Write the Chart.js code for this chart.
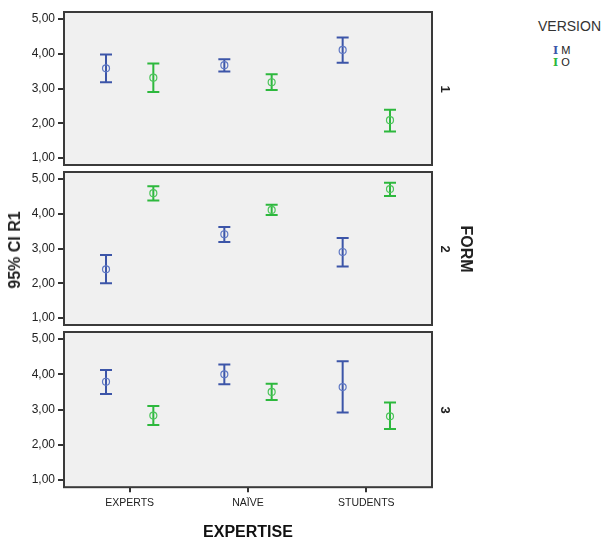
<!DOCTYPE html>
<html>
<head>
<meta charset="utf-8">
<script src="https://cdn.jsdelivr.net/npm/chart.js@4/dist/chart.umd.min.js"></script>
<style>
  body { margin: 0; background: #fff; width: 604px; height: 543px; position: relative; overflow: hidden;
         font-family: 'Liberation Sans', Arial, sans-serif; color: #222; }
  canvas { position: absolute; left: 0; }
  .lbl { position: absolute; white-space: nowrap; transform-origin: center; }
  .bold { font-weight: bold; }
  .leg { position: absolute; font-size: 11px; color: #222; line-height: 12px; }
  .leg span { font-family: 'DejaVu Serif', serif; font-weight: bold; font-size: 11px; margin-right: 3px; }
</style>
</head>
<body>
<canvas id="p0" width="440" height="172" style="top:0px"></canvas>
<canvas id="p1" width="440" height="172" style="top:160px"></canvas>
<canvas id="p2" width="440" height="223" style="top:320px"></canvas>

<div class="lbl bold" style="left:15px; top:250px; font-size:16px; transform:translate(-50%,-50%) rotate(-90deg)">95% CI R1</div>
<div class="lbl bold" style="left:466px; top:249px; font-size:16px; transform:translate(-50%,-50%) rotate(90deg)">FORM</div>
<div id="formLabels"></div>
<div class="lbl" style="left:538px; top:18px; font-size:14px; color:#333">VERSION</div>
<div class="leg" style="left:553px; top:44px"><span style="color:#3c55a8">I</span>M</div>
<div class="leg" style="left:553px; top:56px"><span style="color:#2db83d">I</span>O</div>

<script>
const categories = ['EXPERTS', 'NAÏVE', 'STUDENTS'];
const forms = ['1', '2', '3'];
const yTicks = [1, 2, 3, 4, 5];

// one row per FORM panel, one value per EXPERTISE category
const mMean = [[3.58, 3.67, 4.11], [2.40, 3.41, 2.90], [3.79, 4.00, 3.64]];
const mLow  = [[3.18, 3.49, 3.74], [2.00, 3.19, 2.48], [3.44, 3.72, 2.92]];
const mHigh = [[3.98, 3.84, 4.47], [2.81, 3.62, 3.30], [4.12, 4.28, 4.37]];
const oMean = [[3.31, 3.18, 2.09], [4.59, 4.11, 4.71], [2.83, 3.50, 2.81]];
const oLow  = [[2.90, 2.96, 1.76], [4.38, 3.96, 4.51], [2.56, 3.27, 2.45]];
const oHigh = [[3.72, 3.41, 2.39], [4.79, 4.26, 4.89], [3.10, 3.73, 3.20]];

const panelTops = [12, 172, 332];
const panelHeights = [153, 153, 155];

Chart.defaults.font.family = "'Liberation Sans', Arial, sans-serif";
Chart.defaults.color = '#222';

// panel background + frame
const panelBg = {
  id: 'panelBg',
  beforeDraw(chart) {
    const {ctx, chartArea: a} = chart;
    ctx.save();
    ctx.fillStyle = '#f0f0f0';
    ctx.fillRect(a.left, a.top, a.right - a.left, a.bottom - a.top);
    ctx.restore();
  },
  afterDraw(chart) {
    const {ctx, chartArea: a} = chart;
    ctx.save();
    ctx.strokeStyle = '#3a3a3a';
    ctx.lineWidth = 2;
    ctx.strokeRect(a.left, a.top, a.right - a.left, a.bottom - a.top);
    ctx.restore();
  }
};

// whiskers with caps, drawn under the mean circles
const whiskers = {
  id: 'whiskers',
  beforeDatasetsDraw(chart) {
    const {ctx} = chart;
    const xs = chart.scales.x, ys = chart.scales.y;
    ctx.save();
    chart.data.datasets.forEach(ds => {
      ctx.strokeStyle = ds.whiskerColor;
      ctx.lineWidth = 2;
      ds.data.forEach(p => {
        const x = xs.getPixelForValue(p.x);
        const y1 = ys.getPixelForValue(p.low);
        const y2 = ys.getPixelForValue(p.high);
        ctx.beginPath();
        ctx.moveTo(x, y1); ctx.lineTo(x, y2);
        ctx.moveTo(x - 6, y1); ctx.lineTo(x + 6, y1);
        ctx.moveTo(x - 6, y2); ctx.lineTo(x + 6, y2);
        ctx.stroke();
      });
    });
    ctx.restore();
  }
};

function series(mean, low, high, shift) {
  return categories.map((c, i) => ({x: i + 1 + shift, y: mean[i], low: low[i], high: high[i]}));
}

forms.forEach((f, k) => {
  const isLast = k === forms.length - 1;
  new Chart(document.getElementById('p' + k), {
    type: 'scatter',
    data: {
      datasets: [
        {
          label: 'M',
          data: series(mMean[k], mLow[k], mHigh[k], -0.2),
          borderColor: '#5f78c4',
          backgroundColor: 'rgba(0,0,0,0)',
          whiskerColor: '#3c55a8',
          pointRadius: 3.5,
          pointBorderWidth: 1.2
        },
        {
          label: 'O',
          data: series(oMean[k], oLow[k], oHigh[k], 0.2),
          borderColor: '#4cc45a',
          backgroundColor: 'rgba(0,0,0,0)',
          whiskerColor: '#2db83d',
          pointRadius: 3.5,
          pointBorderWidth: 1.2
        }
      ]
    },
    options: {
      responsive: false,
      animation: false,
      layout: {padding: {top: 12, right: 8, left: 0, bottom: isLast ? 1 : 7}},
      plugins: {legend: {display: false}, tooltip: {enabled: false}},
      scales: {
        x: {
          type: 'linear',
          display: isLast,
          min: 0.445,
          max: 3.555,
          afterBuildTicks: s => { s.ticks = categories.map((c, i) => ({value: i + 1})); },
          afterFit: s => { s.paddingLeft = 0; s.paddingRight = 0; },
          ticks: {
            callback: v => categories[v - 1],
            font: {size: 10.5},
            color: '#222',
            padding: 5,
            maxRotation: 0
          },
          grid: {drawOnChartArea: false, tickLength: 5, color: '#333', lineWidth: 2},
          border: {display: false},
          title: {
            display: true,
            text: 'EXPERTISE',
            font: {size: 16, weight: 'bold'},
            color: '#111',
            padding: {top: 8, bottom: 0}
          }
        },
        y: {
          min: 0.8,
          max: 5.2,
          afterBuildTicks: s => { s.ticks = yTicks.map(v => ({value: v})); },
          afterFit: s => { s.width = 64; s.paddingTop = 0; s.paddingBottom = 0; },
          ticks: {
            callback: v => v.toFixed(2).replace('.', ','),
            font: {size: 12},
            color: '#222',
            padding: 3
          },
          grid: {drawOnChartArea: false, tickLength: 6, color: '#333', lineWidth: 2},
          border: {display: false}
        }
      }
    },
    plugins: [panelBg, whiskers]
  });

  const d = document.createElement('div');
  d.className = 'lbl bold';
  d.textContent = f;
  d.style.cssText = 'left:445px; top:' + (panelTops[k] + panelHeights[k] / 2) +
    'px; font-size:13px; transform:translate(-50%,-50%) rotate(90deg)';
  document.getElementById('formLabels').appendChild(d);
});
</script>
</body>
</html>
